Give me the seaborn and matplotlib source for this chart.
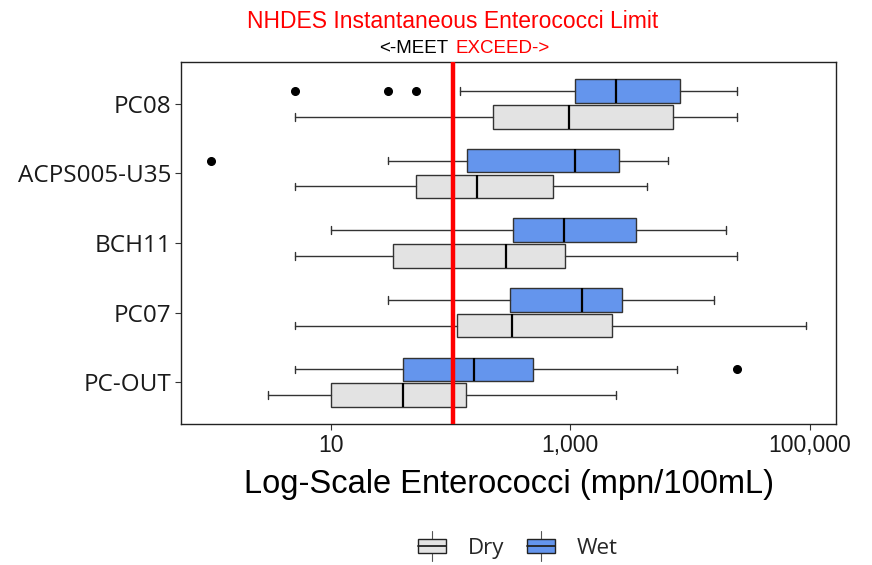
import numpy as np
import matplotlib
matplotlib.use("Agg")
import matplotlib.pyplot as plt
import matplotlib.ticker as mticker
import matplotlib.transforms as mtransforms
from matplotlib.lines import Line2D
from matplotlib.patches import Patch, Rectangle
from matplotlib.legend_handler import HandlerBase
import seaborn as sns

# sites, top to bottom
sites = ["PC08", "ACPS005-U35", "BCH11", "PC07", "PC-OUT"]

# dry weather box stats (mpn/100mL)
dry_lo = [5, 5, 5, 5, 3]
dry_q1 = [228, 52, 33, 114, 10]
dry_med = [980, 167, 293, 328, 40]
dry_q3 = [7200, 716, 906, 2240, 134]
dry_hi = [24500, 4380, 24500, 93000, 2400]
dry_out = [[], [], [], [], []]

# wet weather box stats
wet_lo = [121, 30, 10, 30, 5]
wet_q1 = [1100, 138, 333, 314, 40]
wet_med = [2400, 1100, 890, 1260, 157]
wet_q3 = [8300, 2550, 3540, 2700, 490]
wet_hi = [24500, 6530, 19900, 15800, 7750]
wet_out = [[5, 30, 52], [1], [], [], [24500]]

limit = 104
groups = ["Dry", "Wet"]
colors = {"Dry": "#E3E3E3", "Wet": "#6495ED"}

sns.set_theme(style="white")
plt.rcParams["font.family"] = ["Liberation Sans", "DejaVu Sans"]
ui_font = ["Open Sans", "DejaVu Sans"]
arial = ["Liberation Sans", "DejaVu Sans"]


def make_stats(lo, q1, med, q3, hi, out):
    return [dict(whislo=a, q1=b, med=c, q3=d, whishi=e, fliers=f)
            for a, b, c, d, e, f in zip(lo, q1, med, q3, hi, out)]


class BoxKey(HandlerBase):
    # ggplot-like boxplot legend key
    def create_artists(self, legend, orig_handle, xdescent, ydescent,
                       width, height, fontsize, trans):
        x0, y0 = -xdescent, -ydescent
        cx = x0 + width / 2
        vline = Line2D([cx, cx], [y0 - 0.55 * height, y0 + 1.55 * height],
                       color="#555555", lw=0.8, transform=trans)
        box = Rectangle((x0, y0), width, height,
                        facecolor=orig_handle.get_facecolor(),
                        edgecolor="#222222", lw=1.0, transform=trans)
        med = Line2D([x0, x0 + width], [y0 + height / 2] * 2,
                     color="#222222", lw=1.3, transform=trans)
        return [vline, box, med]


fig, ax = plt.subplots(figsize=(8.72, 5.65), dpi=100)
fig.subplots_adjust(left=0.2076, right=0.9587, top=0.890, bottom=0.2496)

pos = np.arange(len(sites))
offset = 0.185
bw = 0.34

dry_stats = make_stats(dry_lo, dry_q1, dry_med, dry_q3, dry_hi, dry_out)
wet_stats = make_stats(wet_lo, wet_q1, wet_med, wet_q3, wet_hi, wet_out)

for stats, shift, g in [(wet_stats, -offset, "Wet"), (dry_stats, offset, "Dry")]:
    ax.bxp(stats, positions=pos + shift, widths=bw, vert=False,
           patch_artist=True, showfliers=True, capwidths=0.11,
           boxprops=dict(facecolor=colors[g], edgecolor="#333333", lw=1.0),
           medianprops=dict(color="black", lw=1.6),
           whiskerprops=dict(color="#333333", lw=1.0),
           capprops=dict(color="#333333", lw=1.0),
           flierprops=dict(marker="o", markerfacecolor="black",
                           markeredgecolor="black", markersize=5.5))

ax.axvline(limit, color="#FF0000", lw=3.2, zorder=5)

ax.set_xscale("log")
all_vals = dry_lo + dry_hi + wet_lo + wet_hi + sum(dry_out + wet_out, [])
lmin, lmax = np.log10(min(all_vals)), np.log10(max(all_vals))
pad = 0.05 * (lmax - lmin)
ax.set_xlim(10 ** (lmin - pad), 10 ** (lmax + pad))
ax.set_ylim(len(sites) - 0.4, -0.6)

ax.set_xticks([10, 1000, 100000])
ax.set_xticklabels([f"{v:,}" for v in [10, 1000, 100000]], family=arial,
                   fontsize=16.5, color="#1a1a1a")
ax.xaxis.set_minor_locator(mticker.NullLocator())
ax.set_yticks(pos)
ax.set_yticklabels(sites, family=ui_font, fontsize=17.5, color="#1a1a1a")
ax.tick_params(axis="both", length=4, width=0.8, color="#333333", pad=3,
               bottom=True, left=True)
for s in ax.spines.values():
    s.set_color("#222222")
    s.set_linewidth(1.0)

ax.set_xlabel("Log-Scale Enterococci (mpn/100mL)", fontsize=23.5, color="black",
              labelpad=9, family=arial)
ax.set_ylabel("")

# title centred on the limit line
tr = mtransforms.blended_transform_factory(ax.transData, fig.transFigure)
ax.text(limit, 0.962, "NHDES Instantaneous Enterococci Limit", transform=tr,
        ha="center", va="center", color="#FF0000", fontsize=16.5)
ax.text(limit * 0.93, 0.915, "<-MEET", transform=tr, ha="right", va="center",
        color="black", fontsize=13.5)
ax.text(limit * 1.05, 0.915, "EXCEED->", transform=tr, ha="left", va="center",
        color="#FF0000", fontsize=13.5)

handles = [Patch(facecolor=colors[g]) for g in groups]
fig.legend(handles, groups, loc="center", bbox_to_anchor=(0.594, 0.03), ncol=2,
           frameon=False, handler_map={Patch: BoxKey()},
           prop=dict(family=ui_font, size=16),
           handlelength=1.25, handleheight=0.6, columnspacing=1.0,
           handletextpad=1.0)

fig.savefig("out.png", dpi=100)
